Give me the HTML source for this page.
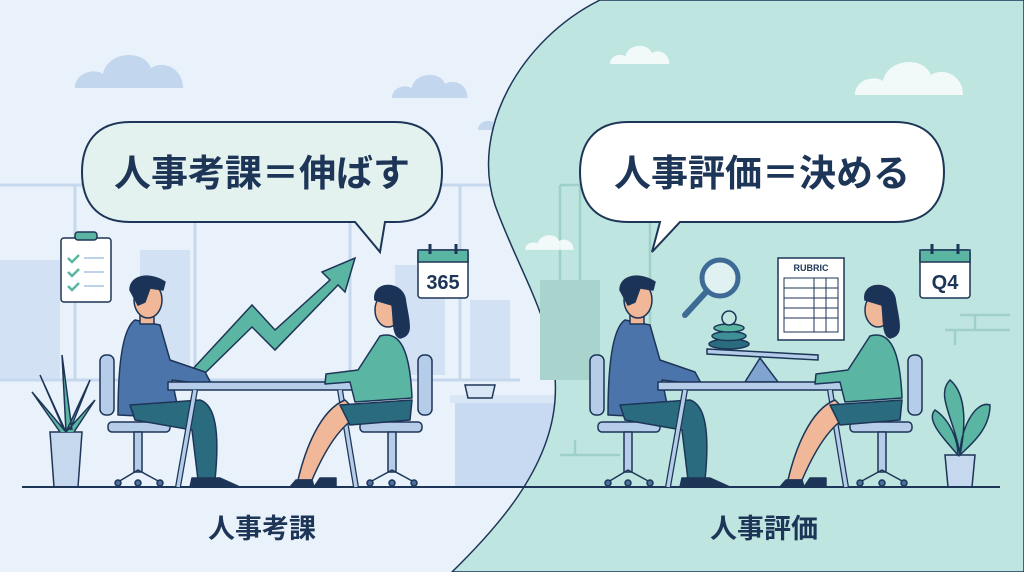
<!DOCTYPE html>
<html><head><meta charset="utf-8"><style>
html,body{margin:0;padding:0;}
body{width:1024px;height:572px;overflow:hidden;background:#e9f2fb;}
svg{display:block}
text{font-family:"Liberation Sans","Noto Sans CJK JP",sans-serif;font-weight:bold;fill:#1d3557}
</style></head><body>
<svg width="1024" height="572" viewBox="0 0 1024 572" xmlns="http://www.w3.org/2000/svg">
<defs>
<g id="scene" stroke="#1d3557" stroke-width="1.5" stroke-linejoin="round">
  <!-- man chair -->
  <rect x="100" y="355" width="14" height="60" rx="6" fill="#b6cdea"/>
  <rect x="108" y="422" width="62" height="10" rx="4" fill="#b6cdea"/>
  <rect x="134" y="432" width="8" height="40" fill="#b6cdea"/>
  <path d="M118 482 L138 470 L160 482" fill="none"/>
  <circle cx="118" cy="483" r="3" fill="#4a6f9a"/><circle cx="138" cy="483" r="3" fill="#4a6f9a"/><circle cx="160" cy="483" r="3" fill="#4a6f9a"/>
  <!-- man -->
  <path d="M135 320 C120 330 118 380 118 415 L180 418 L172 380 L212 385 L205 372 L170 360 L160 325 Z" fill="#4a74aa"/>
  <path d="M130 405 L200 400 C215 405 220 430 215 480 L198 480 L192 430 L135 420 Z" fill="#2b6b80"/>
  <path d="M192 478 L220 478 L240 487 L190 487 Z" fill="#1d3557"/>
  <rect x="140" y="310" width="14" height="14" fill="#f0b898"/>
  <ellipse cx="148" cy="300" rx="14" ry="18" fill="#f0b898"/>
  <path d="M130 290 C130 275 150 272 165 282 L163 290 L150 288 L145 302 L138 305 Z" fill="#1c3358"/>
  <!-- table -->
  <rect x="168" y="382" width="198" height="8" fill="#b6cdea"/>
  <path d="M195 390 L178 487 M340 390 L356 487" stroke="#1d3557" stroke-width="6"/>
  <path d="M195 390 L178 487 M340 390 L356 487" stroke="#b6cdea" stroke-width="3.5"/>
  <!-- woman chair -->
  <rect x="418" y="355" width="14" height="60" rx="6" fill="#b6cdea"/>
  <rect x="360" y="422" width="62" height="10" rx="4" fill="#b6cdea"/>
  <rect x="388" y="432" width="8" height="40" fill="#b6cdea"/>
  <path d="M370 482 L392 470 L414 482" fill="none"/>
  <circle cx="370" cy="483" r="3" fill="#4a6f9a"/><circle cx="392" cy="483" r="3" fill="#4a6f9a"/><circle cx="414" cy="483" r="3" fill="#4a6f9a"/>
  <!-- woman -->
  <path d="M345 400 C320 410 305 450 298 480 L312 480 C325 450 340 425 360 415 Z" fill="#f0b898"/>
  <path d="M340 405 L412 400 L410 420 L350 425 Z" fill="#2b6b80"/>
  <path d="M380 336 C400 330 410 350 412 398 L355 402 L350 382 L325 384 L326 374 L358 370 Z" fill="#5bb5a3"/>
  <path d="M296 480 L312 480 L314 487 L290 487 Z M320 478 L336 478 L336 487 L314 487 Z" fill="#1d3557"/>
  <ellipse cx="388" cy="310" rx="13" ry="17" fill="#f0b898"/>
  <path d="M375 300 C372 282 400 280 405 298 C408 320 415 335 400 338 C392 335 394 320 392 305 Z" fill="#1c3358"/>
</g>
<g id="cloud"><path d="M0 20 C0 12 10 10 14 13 C16 2 34 0 38 10 C44 6 54 10 54 20 Z"/></g>
</defs>

<!-- left background details -->
<rect x="0" y="0" width="1024" height="572" fill="#e9f2fb"/>
<g fill="#d2e2f4">
<rect x="0" y="260" width="60" height="120"/><rect x="140" y="250" width="50" height="140"/>
<rect x="395" y="265" width="50" height="110"/><rect x="470" y="300" width="40" height="80"/>
</g>
<g stroke="#c5d8ee" stroke-width="3" fill="none">
<path d="M0 185 H520 M75 185 V380 M195 185 V380 M350 185 V380 M460 185 V380 M0 380 H520"/>
</g>
<rect x="455" y="398" width="100" height="90" fill="#c7daf1"/>
<rect x="450" y="395" width="110" height="8" fill="#d8e6f5"/>
<g fill="#c2d6ee"><use href="#cloud" transform="translate(75,48) scale(2)"/><use href="#cloud" transform="translate(392,70) scale(1.4)"/><use href="#cloud" transform="translate(478,108) scale(1.1)"/></g>

<!-- right background -->
<path d="M600 0 C520 40 470 130 495 205 C520 275 560 330 555 400 C550 470 495 530 452 572 L1024 572 L1024 0 Z" fill="#bfe5e0" stroke="#1d3557" stroke-width="1.5"/>
<g stroke="#9fcfc9" stroke-width="2.5" fill="none">
<path d="M560 185 V375 M580 185 V375 M650 185 V375 M560 185 H700"/>
<path d="M945 330 H1010 M960 315 H1010 M975 315 V330 M955 330 V345 M560 455 H620 M575 440 V455"/>
</g>
<g fill="#a9d4ce"><rect x="540" y="280" width="60" height="100"/></g>
<g fill="#fff" opacity="0.8"><use href="#cloud" transform="translate(610,42) scale(1.1)"/><use href="#cloud" transform="translate(855,55) scale(2)"/><use href="#cloud" transform="translate(525,232) scale(0.9)"/></g>

<!-- plants -->
<g stroke="#1d3557" stroke-width="1.5">
<path d="M50 432 L82 432 L78 487 L54 487 Z" fill="#c5d8ee"/>
<path d="M66 432 L62 355 L72 430 M66 432 L40 375 L64 430 M66 432 L90 380 L70 430 M66 432 L32 392 L60 432 M66 432 L95 400 L74 432" fill="#5bb5a3"/>
<path d="M945 455 L975 455 L972 487 L948 487 Z" fill="#c5d8ee"/>
<path d="M960 455 C955 420 935 395 950 380 C968 395 965 430 960 455 Z M960 455 C960 430 975 400 990 405 C990 430 970 445 960 455 Z M958 455 C945 440 925 420 935 410 C950 420 958 440 958 455 Z" fill="#5bb5a3"/>
<path d="M465 385 L495 385 L492 398 L468 398 Z" fill="#d8e6f5"/>
</g>

<!-- floor -->
<path d="M22 487 H1000" stroke="#1d3557" stroke-width="2"/>

<!-- left props -->
<g stroke="#1d3557" stroke-width="1.5">
<rect x="61" y="238" width="50" height="64" rx="3" fill="#fff"/>
<rect x="75" y="232" width="22" height="8" rx="3" fill="#5bb5a3"/>
<path d="M68 258 l4 4 l7 -7 M68 272 l4 4 l7 -7 M68 286 l4 4 l7 -7" stroke="#5bb5a3" stroke-width="2.5" fill="none"/>
<path d="M84 258 H104 M84 272 H104 M84 286 H104" stroke="#a8c4e4" fill="none"/>
<rect x="418" y="250" width="50" height="48" rx="3" fill="#fff"/>
<rect x="418" y="250" width="50" height="12" fill="#5bb5a3"/>
<path d="M430 244 V254 M456 244 V254" stroke-width="3"/>
<!-- arrow -->
<path d="M190 372 L252 305 L275 330 L330 280 L322 272 L355 258 L345 292 L338 285 L275 350 L252 327 L203 375 Z" fill="#5bb5a3"/>
</g>
<text x="443" y="289" font-size="20" text-anchor="middle">365</text>

<!-- right props -->
<g stroke="#1d3557" stroke-width="1.5">
<circle cx="720" cy="278" r="18" fill="#dff1f0" stroke="#3e6a96" stroke-width="5"/>
<path d="M707 291 L685 315" stroke="#3e6a96" stroke-width="6" stroke-linecap="round"/>
<rect x="778" y="258" width="66" height="82" fill="#fff"/>
<path d="M784 278 H838 V332 H784 Z M784 288 H838 M784 298 H838 M784 308 H838 M784 318 H838 M814 278 V332 M826 278 V332" fill="none" stroke-width="1"/>
<rect x="920" y="250" width="50" height="48" rx="3" fill="#fff"/>
<rect x="920" y="250" width="50" height="12" fill="#5bb5a3"/>
<path d="M932 244 V254 M958 244 V254" stroke-width="3"/>
<ellipse cx="729" cy="344" rx="20" ry="5" fill="#2b6b80"/>
<ellipse cx="729" cy="336" rx="17" ry="4.5" fill="#3f8f96"/>
<ellipse cx="729" cy="328" rx="15" ry="4" fill="#5bb5a3"/>
<circle cx="729" cy="318" r="7" fill="#bfe5e0"/>
<path d="M707 349 L818 355 L818 360 L707 354 Z" fill="#b6cdea"/>
<path d="M760 358 L745 382 L778 382 Z" fill="#7fa4d0"/>
</g>
<text x="811" y="271" font-size="9" text-anchor="middle">RUBRIC</text>
<text x="945" y="289" font-size="20" text-anchor="middle">Q4</text>

<!-- people scenes -->
<use href="#scene"/>
<use href="#scene" transform="translate(490,0)"/>

<!-- bubbles -->
<g stroke="#1d3557" stroke-width="2">
<path d="M130 122 H395 C430 122 442 145 442 172 C442 200 430 222 395 222 H385 L380 252 L355 222 H130 C95 222 82 200 82 172 C82 145 95 122 130 122 Z" fill="#e3f1ef"/>
<path d="M628 122 H895 C930 122 944 145 944 172 C944 200 930 222 895 222 H680 L652 252 L660 222 H628 C593 222 580 200 580 172 C580 145 593 122 628 122 Z" fill="#fff"/>
</g>
<text x="262" y="186" font-size="37" text-anchor="middle">人事考課＝伸ばす</text>
<text x="762" y="186" font-size="37" text-anchor="middle">人事評価＝決める</text>
<text x="262" y="538" font-size="27" text-anchor="middle">人事考課</text>
<text x="764" y="538" font-size="27" text-anchor="middle">人事評価</text>
</svg>
</body></html>
